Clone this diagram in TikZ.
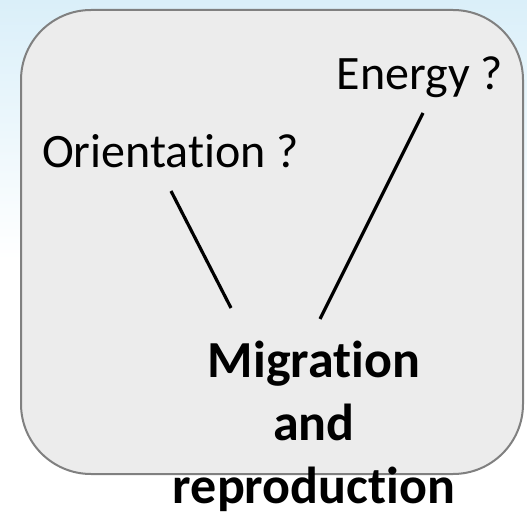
\documentclass[tikz,border=0pt]{standalone}
\usepackage{fontspec}
\setmainfont{Carlito}[Ligatures=NoCommon]
\usetikzlibrary{positioning}
\definecolor{slidebg}{RGB}{218, 239, 249}
\definecolor{panelfill}{RGB}{236, 236, 236}
\definecolor{paneledge}{RGB}{128, 128, 128}

\begin{document}
\begin{tikzpicture}[x=1pt, y=-1pt,
        panel/.style={draw=paneledge, line width=2pt, fill=panelfill, rounded corners=70pt},
        question/.style={inner sep=0pt, font=\fontsize{48}{57}\selectfont},
        goal/.style={inner sep=0pt, align=center, font=\fontsize{52}{63}\selectfont\bfseries},
        link/.style={line width=3.2pt, black}
      ]
        \useasboundingbox (0,0) rectangle (527,521);
        \shade[top color=slidebg, bottom color=white, middle color=white] (0,0) rectangle (527,521);
        \draw[panel] (21,10) rectangle (523,474);
        \node[question, anchor=base west] (orient) at (42,168) {Orientation ?};
        \node[question, anchor=base east] (energy) at (503,90) {Energy ?};
        \node[goal, anchor=base] (migr) at (314,503) {Migration\\and\\reproduction};
        \coordinate (orientend) at (171,191);
        \coordinate (migrleft) at (231,308);
        \coordinate (energyend) at (423,113);
        \coordinate (migrright) at (320,319);
        \draw[link] (orientend) -- (migrleft);
        \draw[link] (energyend) -- (migrright);
      \end{tikzpicture}
\end{document}
